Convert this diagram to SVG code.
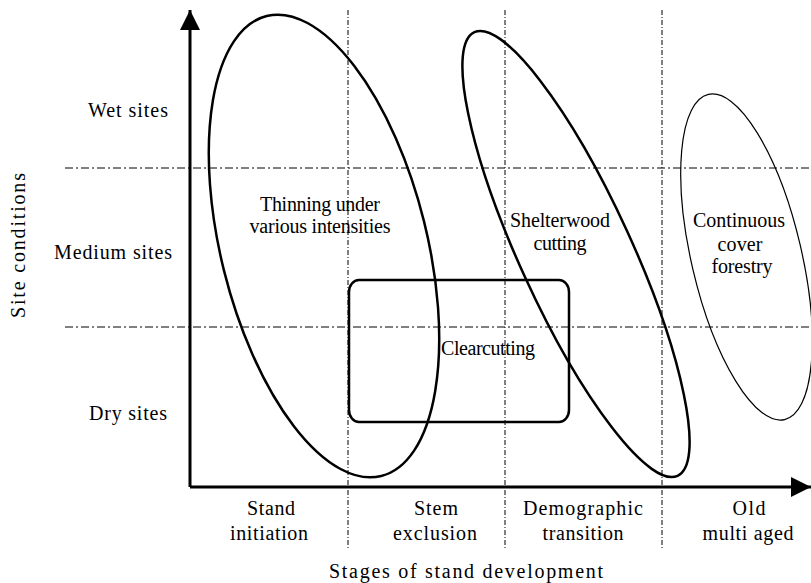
<svg xmlns="http://www.w3.org/2000/svg" width="811" height="583" viewBox="0 0 811 583">
<style>
text{font-family:"Liberation Serif","Times New Roman",serif;font-size:20px;fill:#000;text-anchor:middle}
.grid{stroke:#000;stroke-width:1;fill:none}
.h{stroke-dasharray:8 3 2 3}
.v{stroke-dasharray:5 2 1 2}
.axis{stroke:#000;stroke-width:3;fill:none}
.thick{stroke:#000;stroke-width:2.5;fill:none}
.thin{stroke:#000;stroke-width:1.2;fill:none}
</style>
<defs>
<marker id="ah" viewBox="0 0 20 20" refX="20" refY="10" markerWidth="20" markerHeight="20" markerUnits="userSpaceOnUse" orient="auto"><path d="M0,0 L20,10 L0,20 z" fill="#000"/></marker>
</defs>
<g id="grid">
<line class="grid h" x1="65" y1="168" x2="811" y2="168"/>
<line class="grid h" x1="65" y1="327" x2="811" y2="327"/>
<line class="grid v" x1="348" y1="10" x2="348" y2="548"/>
<line class="grid v" x1="505" y1="10" x2="505" y2="548"/>
<line class="grid v" x1="662" y1="10" x2="662" y2="548"/>
</g>
<g id="connectors">
<line class="axis" x1="190" y1="487" x2="190" y2="10" marker-end="url(#ah)"/>
<line class="axis" x1="190" y1="487" x2="811" y2="487" marker-end="url(#ah)"/>
</g>
<g id="thinning">
<ellipse class="thick" cx="324" cy="246" rx="103" ry="237" transform="rotate(-14 324 246)"/>
<text x="320" y="211" textLength="120" lengthAdjust="spacing">Thinning under</text>
<text x="320" y="233" textLength="141" lengthAdjust="spacing">various intensities</text>
</g>
<g id="shelterwood">
<ellipse class="thick" cx="576" cy="254" rx="56" ry="244" transform="rotate(-24.6 576 254)"/>
<text x="560" y="227" textLength="100" lengthAdjust="spacing">Shelterwood</text>
<text x="560" y="250" textLength="53" lengthAdjust="spacing">cutting</text>
</g>
<g id="continuous">
<ellipse class="thin" cx="746.5" cy="257" rx="55" ry="167" transform="rotate(-13.2 746.5 257)"/>
<text x="739" y="227" textLength="92" lengthAdjust="spacing">Continuous</text>
<text x="740" y="251" textLength="45" lengthAdjust="spacing">cover</text>
<text x="742" y="273" textLength="61" lengthAdjust="spacing">forestry</text>
</g>
<g id="clearcutting">
<rect class="thick" x="349" y="280" width="220" height="142" rx="10" ry="12"/>
<text x="488" y="355" textLength="94" lengthAdjust="spacing">Clearcutting</text>
</g>
<g id="labels">
<text x="128" y="117" textLength="80" lengthAdjust="spacing">Wet sites</text>
<text x="113" y="259" textLength="118" lengthAdjust="spacing">Medium sites</text>
<text x="128" y="420" textLength="78" lengthAdjust="spacing">Dry sites</text>
<text transform="translate(25 245.5) rotate(-90)" textLength="145" lengthAdjust="spacing">Site conditions</text>
<text x="271" y="515" textLength="48" lengthAdjust="spacing">Stand</text>
<text x="269" y="540" textLength="78" lengthAdjust="spacing">initiation</text>
<text x="436" y="515" textLength="44" lengthAdjust="spacing">Stem</text>
<text x="435" y="540" textLength="84" lengthAdjust="spacing">exclusion</text>
<text x="583" y="515" textLength="120" lengthAdjust="spacing">Demographic</text>
<text x="583" y="540" textLength="81" lengthAdjust="spacing">transition</text>
<text x="749" y="515" textLength="33" lengthAdjust="spacing">Old</text>
<text x="748" y="540" textLength="91" lengthAdjust="spacing">multi aged</text>
<text x="466" y="578" textLength="274" lengthAdjust="spacing">Stages of stand development</text>
</g>
</svg>
